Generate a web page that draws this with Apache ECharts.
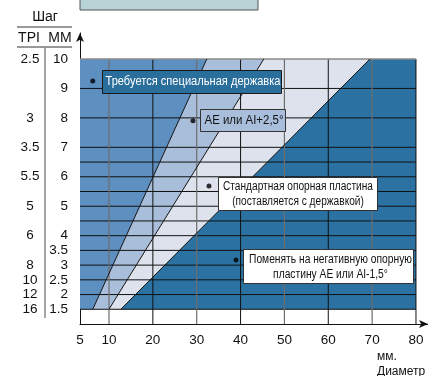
<!DOCTYPE html>
<html><head><meta charset="utf-8">
<script src="https://cdn.jsdelivr.net/npm/echarts@6/dist/echarts.min.js"></script>
<style>html,body{margin:0;padding:0;background:#fff}#c{width:428px;height:376px}</style>
</head><body><div id="c"></div>
<script>
// ---- data ----
const xTicks = [5, 10, 20, 30, 40, 50, 60, 70, 80];
const mmTicks = [10, 9, 8, 7, 6, 5, 4, 3.5, 3, 2.5, 2, 1.5];
const tpiLabels = ['2.5', '3', '3.5', '5.5', '5', '6', '8', '10', '12', '16'];
const tpiAtMm = [10, 8, 7, 6, 5, 4, 3, 2.5, 2, 1.5];
const hGrid = [1.5, 2, 2.5, 3, 3.5, 4, 4.5, 5, 5.5, 6, 6.5, 7, 8, 9];
const vGridOdd = [10, 30, 50, 70];
const vGridEven = [20, 40, 60, 80];
const lineA = [[7.2, 1.5], [32.3, 10]];
const lineB = [[10, 1.5], [45.3, 10]];
const lineC = [[12.7, 1.5], [69.5, 10]];
const noteLines = [
  ['Требуется специальная державка'],
  ['AE или AI+2,5°'],
  ['Стандартная опорная пластина', '(поставляется с державкой)'],
  ['Поменять на негативную опорную', 'пластину AE или AI-1,5°']
];
const notePoints = [[7.2, 9.25], [29.15, 7.9], [32.8, 5.69], [38.96, 3.17]];

// ---- scale: first segment (5..10) is stretched on the axis ----
const X0 = 3.388;
function xPos(d) { return d >= 10 ? d : X0 + (d - 5) * (10 - X0) / 5; }
const P = p => [xPos(p[0]), p[1]];
const regions = [
  [[5, 1.5], lineA[0], lineA[1], [5, 10]],
  [lineA[0], lineA[1], lineB[1], lineB[0]],
  [lineB[0], lineB[1], lineC[1], lineC[0]],
  [lineC[0], lineC[1], [80, 10], [80, 1.5]]
];
const regionColors = ['#5d8fc1', '#a9bedb', '#dde2ed', '#2b72a2'];

const FONT = '"Liberation Sans", Arial, sans-serif';
const NOTE_FONT_SIZE = 12.5;

// note box styles (offsets relative to the dot, sizes, colours)
const noteStyles = [
  {dx: 9, dy: -11, w: 179, h: 23, fill: '#2a6e9c', stroke: '#1a1a1a', color: '#fff', align: 'left', tx: 3, ty: [11.5], target: 175},
  {dx: 7, dy: -12, w: 85, h: 22, fill: '#a9bedb', stroke: '#333', color: '#111', align: 'left', tx: 4, ty: [11], target: 79},
  {dx: 9, dy: -9, w: 159, h: 33, fill: '#fff', stroke: '#333', color: '#111', align: 'center', tx: 79.5, ty: [9.5, 24], target: 150},
  {dx: 7, dy: -11, w: 170, h: 34, fill: '#fff', stroke: '#333', color: '#111', align: 'center', tx: 87, ty: [10.5, 25], target: 163}
];

const chart = echarts.init(document.getElementById('c'), null, {renderer: 'canvas'});

const series = [
  {
    type: 'custom', z: 1, silent: true,
    data: regions.map((r, i) => [i]),
    renderItem: (params, api) => {
      const pts = regions[params.dataIndex].map(p => api.coord(P(p)));
      return {type: 'polygon', shape: {points: pts}, style: {fill: regionColors[params.dataIndex], stroke: null}};
    }
  },
  {
    type: 'custom', z: 2, silent: true,
    data: hGrid.map(v => [v]),
    renderItem: (params, api) => {
      const v = hGrid[params.dataIndex];
      const a = api.coord([xPos(5), v]), b = api.coord([80, v]);
      return {type: 'line', shape: {x1: a[0], y1: a[1], x2: b[0], y2: b[1]}, style: {stroke: '#111', lineWidth: 1}};
    }
  },
  {
    type: 'custom', z: 2, silent: true,
    data: vGridOdd.map(v => [v]),
    renderItem: (params, api) => {
      const v = vGridOdd[params.dataIndex];
      const a = api.coord([v, 1]), b = api.coord([v, 10]);
      return {type: 'line', shape: {x1: a[0], y1: a[1], x2: b[0], y2: b[1]}, style: {stroke: '#6e6e6e', lineWidth: 1.2}};
    }
  },
  {
    type: 'custom', z: 2, silent: true,
    data: vGridEven.map(v => [v]),
    renderItem: (params, api) => {
      const v = vGridEven[params.dataIndex];
      const a = api.coord([v, 1]), b = api.coord([v, 10]);
      return {type: 'line', shape: {x1: a[0], y1: a[1], x2: b[0], y2: b[1]}, style: {stroke: '#111', lineWidth: 1}};
    }
  },
  {
    type: 'custom', z: 2, silent: true,
    data: [[10]],
    renderItem: (params, api) => {
      const a = api.coord([xPos(5), 10]), b = api.coord([80, 10]);
      return {type: 'line', shape: {x1: a[0], y1: a[1], x2: b[0], y2: b[1]}, style: {stroke: '#8a8a8a', lineWidth: 1.6}};
    }
  },
  ...[lineA, lineB, lineC].map(l => ({
    type: 'line', z: 3, silent: true, symbol: 'none',
    data: l.map(P), lineStyle: {color: '#111', width: 1}
  })),
  {
    type: 'scatter', z: 5, symbol: 'circle', symbolSize: 5, silent: true,
    itemStyle: {color: '#000'},
    data: notePoints.map(P)
  }
];
const DOT_SERIES = series.length - 1;

const option = {
  animation: false,
  grid: {left: 80, right: 0, top: 33, bottom: 52},
  xAxis: {
    type: 'value', min: X0, max: 82.74,
    axisLine: {show: true, lineStyle: {color: '#111', width: 1}, symbol: ['none', 'arrow'], symbolSize: [6, 9]},
    axisTick: {show: false},
    splitLine: {show: false},
    axisLabel: {
      customValues: xTicks.map(xPos),
      formatter: v => { const i = xTicks.findIndex(t => Math.abs(xPos(t) - v) < 0.01); return i >= 0 ? String(xTicks[i]) : ''; },
      fontFamily: FONT, fontSize: 13.5, color: '#111', margin: 9
    }
  },
  yAxis: [{
    type: 'value', min: 1, max: 10.883, position: 'left',
    axisLine: {show: true, lineStyle: {color: '#111', width: 1}, symbol: ['none', 'arrow'], symbolSize: [6, 9]},
    axisTick: {show: false},
    splitLine: {show: false},
    axisLabel: {customValues: mmTicks, formatter: v => String(v), fontFamily: FONT, fontSize: 13.5, color: '#111', margin: 12}
  }, {
    type: 'value', min: 1, max: 10.883, position: 'left', offset: 50,
    axisLine: {show: false}, axisTick: {show: false}, splitLine: {show: false},
    axisLabel: {
      customValues: tpiAtMm,
      formatter: v => { const i = tpiAtMm.indexOf(v); return i >= 0 ? tpiLabels[i] : ''; },
      fontFamily: FONT, fontSize: 13.5, color: '#111', margin: 0, align: 'center'
    }
  }],
  series: series
};
chart.setOption(option);

// ---- static header graphics + note boxes anchored to the dots ----
const measureCtx = document.createElement('canvas').getContext('2d');
measureCtx.font = NOTE_FONT_SIZE + 'px ' + FONT;
const graphics = [
  {type: 'rect', shape: {x: 80, y: -2, width: 178, height: 12}, style: {fill: '#b8d3d5', stroke: '#555', lineWidth: 1}},
  {type: 'text', x: 45, y: 17, style: {text: 'Шаг', font: '14px ' + FONT, fill: '#111', align: 'center', verticalAlign: 'middle'}},
  {type: 'line', shape: {x1: 17, y1: 27, x2: 72, y2: 27}, style: {stroke: '#333', lineWidth: 1}},
  {type: 'text', x: 29, y: 38, style: {text: 'TPI', font: '14px ' + FONT, fill: '#111', align: 'center', verticalAlign: 'middle'}},
  {type: 'text', x: 60, y: 38, style: {text: 'ММ', font: '14px ' + FONT, fill: '#111', align: 'center', verticalAlign: 'middle'}},
  {type: 'line', shape: {x1: 17, y1: 47, x2: 72, y2: 47}, style: {stroke: '#333', lineWidth: 1}},
  {type: 'line', shape: {x1: 45, y1: 47, x2: 45, y2: 318}, style: {stroke: '#888', lineWidth: 1.5}},
  {type: 'text', x: 377, y: 357, style: {text: 'мм.', font: '12px ' + FONT, fill: '#111', align: 'left', verticalAlign: 'middle'}},
  {type: 'text', x: 377, y: 372, style: {text: 'Диаметр', font: '12px ' + FONT, fill: '#111', align: 'left', verticalAlign: 'middle'}}
];
notePoints.forEach((p, i) => {
  const s = noteStyles[i];
  const px = chart.convertToPixel({seriesIndex: DOT_SERIES}, P(p));
  const mw = measureCtx.measureText(noteLines[i][0]).width || s.target;
  const scale = Math.min(1, s.target / mw);
  const gx = Math.round(px[0] + s.dx) + 0.5, gy = Math.round(px[1] + s.dy) + 0.5;
  graphics.push({type: 'rect', z: 100, shape: {x: gx, y: gy, width: s.w, height: s.h},
    style: {fill: s.fill, stroke: s.stroke, lineWidth: 1}});
  noteLines[i].forEach((t, k) => {
    graphics.push({type: 'text', z: 101, x: gx + s.tx, y: gy + s.ty[k], scaleX: scale,
      style: {text: t, font: NOTE_FONT_SIZE + 'px ' + FONT, fill: s.color, align: s.align, verticalAlign: 'middle'}});
  });
});
chart.setOption({graphic: graphics});
</script>
</body></html>
